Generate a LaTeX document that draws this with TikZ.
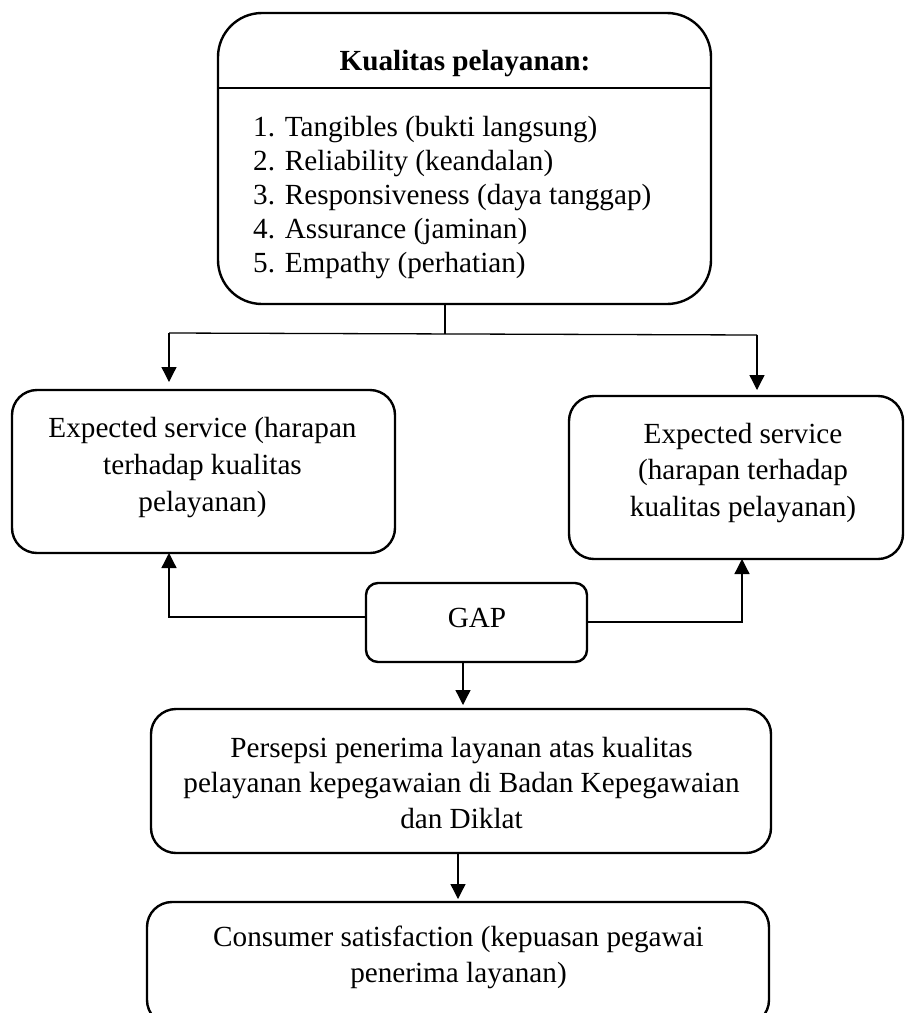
\documentclass[tikz,border=0pt]{standalone}
\usepackage{fontspec}
\setmainfont{Liberation Serif}
\usetikzlibrary{arrows.meta}
\begin{document}
\begin{tikzpicture}[x=1pt,y=-1pt,
  box/.style={draw, line width=2.4pt, rounded corners=25pt, inner sep=0pt, outer sep=0pt},
  txt/.style={font=\fontsize{29.2}{37}\selectfont, align=center, inner sep=0pt, anchor=base},
  conn/.style={line width=1.3pt},
  arr/.style={conn, -{Triangle[length=15pt,width=15pt]}}]
\useasboundingbox (0,0) rectangle (907,1013);
\clip (0,0) rectangle (907,1013);
% boxes
\node[box, rounded corners=44pt, minimum width=493pt, minimum height=291pt] (top) at (464.5,158.5) {};
\node[box, minimum width=383pt, minimum height=163pt] (exp1) at (203.5,471.5) {};
\node[box, minimum width=334pt, minimum height=163pt] (exp2) at (736,477.5) {};
\node[box, rounded corners=12pt, minimum width=221pt, minimum height=79pt] (gap) at (476.5,622.5) {};
\node[box, minimum width=620pt, minimum height=144pt] (pers) at (461,781) {};
\node[box, minimum width=622pt, minimum height=123pt] (cons) at (458,963.5) {};
% divider in top box
\draw[line width=1.5pt] (top.west |- 0,88) -- (top.east |- 0,88);
% texts (anchor = baseline of the last line)
\node[txt, font=\bfseries\fontsize{29.2}{37}\selectfont] (title) at (465,70) {Kualitas pelayanan:};
\node[txt, align=left, anchor=base west, font=\fontsize{29.2}{34}\selectfont] (list) at (253,272)
  {1. Tangibles (bukti langsung)\\2. Reliability (keandalan)\\3. Responsiveness (daya tanggap)\\4. Assurance (jaminan)\\5. Empathy (perhatian)};
\node[txt] (t1) at (202.5,511) {Expected service (harapan\\terhadap kualitas\\pelayanan)};
\node[txt, font=\fontsize{29.2}{36.5}\selectfont] (t2) at (743,516) {Expected service\\(harapan terhadap\\kualitas pelayanan)};
\node[txt] (tg) at (477,627) {GAP};
\node[txt, font=\fontsize{29.2}{35.5}\selectfont] (tp) at (461.5,828) {Persepsi penerima layanan atas kualitas\\pelayanan kepegawaian di Badan Kepegawaian\\dan Diklat};
\node[txt, font=\fontsize{29.2}{36}\selectfont] (tc) at (458.5,982) {Consumer satisfaction (kepuasan pegawai\\penerima layanan)};
% connectors
\coordinate (j) at (445,334);
\coordinate (jl) at (169,333);
\coordinate (jr) at (757,335);
\draw[conn] (top.south -| j) -- (j);
\draw[conn] (jl) -- (jr);
\draw[arr, shorten >=8pt] (jl) -- (jl |- exp1.north);
\draw[arr, shorten >=6pt] (jr) -- (jr |- exp2.north);
\coordinate (gl) at (169,617);
\coordinate (gr) at (742,622);
\draw[arr] (gap.west |- gl) -- (gl) -- (gl |- exp1.south);
\draw[arr] (gap.east |- gr) -- (gr) -- (gr |- exp2.south);
\coordinate (g1) at (463,0);
\coordinate (p1) at (458,0);
\draw[arr, shorten >=4pt] (gap.south -| g1) -- (pers.north -| g1);
\draw[arr, shorten >=3pt] (pers.south -| p1) -- (cons.north -| p1);
\end{tikzpicture}
\end{document}
